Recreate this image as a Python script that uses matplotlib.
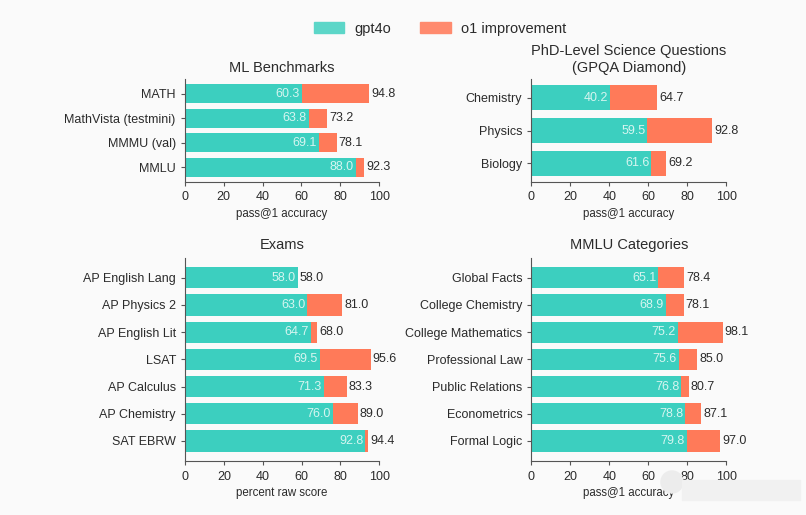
import matplotlib.pyplot as plt
from matplotlib.patches import Circle, Rectangle

plt.rcParams['font.family'] = ['Liberation Sans', 'DejaVu Sans']

TEAL = '#3ccfbf'
CORAL = '#ff7a59'
INK = '#2b2b2b'
W, H = 806, 515

ml_labels = ['MATH', 'MathVista (testmini)', 'MMMU (val)', 'MMLU']
ml_base = [60.3, 63.8, 69.1, 88.0]
ml_top = [94.8, 73.2, 78.1, 92.3]

sci_labels = ['Chemistry', 'Physics', 'Biology']
sci_base = [40.2, 59.5, 61.6]
sci_top = [64.7, 92.8, 69.2]

exam_labels = ['AP English Lang', 'AP Physics 2', 'AP English Lit', 'LSAT',
               'AP Calculus', 'AP Chemistry', 'SAT EBRW']
exam_base = [58.0, 63.0, 64.7, 69.5, 71.3, 76.0, 92.8]
exam_top = [58.0, 81.0, 68.0, 95.6, 83.3, 89.0, 94.4]

cat_labels = ['Global Facts', 'College Chemistry', 'College Mathematics',
              'Professional Law', 'Public Relations', 'Econometrics', 'Formal Logic']
cat_base = [65.1, 68.9, 75.2, 75.6, 76.8, 78.8, 79.8]
cat_top = [78.4, 78.1, 98.1, 85.0, 80.7, 87.1, 97.0]


def panel(rect, title, labels, base, top, xlabel, margin, title_pad=5):
    ax = fig.add_axes([rect[0] / W, 1 - rect[3] / H,
                       (rect[2] - rect[0]) / W, (rect[3] - rect[1]) / H])
    ax.set_facecolor('none')
    y = list(range(len(labels)))
    ax.barh(y, base, height=0.78, color=TEAL)
    ax.barh(y, [t - b for t, b in zip(top, base)], left=base, height=0.78, color=CORAL)
    for i in y:
        ax.text(base[i] - 1, i, '%.1f' % base[i], color='#d6f5f0', fontsize=9,
                ha='right', va='center')
        ax.text(top[i] + 1, i, '%.1f' % top[i], color=INK, fontsize=9,
                ha='left', va='center', clip_on=False)
    ax.set_yticks(y)
    ax.set_yticklabels(labels, fontsize=9, color=INK)
    ax.set_xlim(0, 100)
    ax.set_ylim(len(labels) - 1 + margin, -margin)
    ax.set_xticks([0, 20, 40, 60, 80, 100])
    ax.tick_params(axis='x', labelsize=9, labelcolor=INK, color='#555555', length=3, pad=4)
    ax.tick_params(axis='y', color='#555555', length=3, pad=3.5)
    ax.set_xlabel(xlabel, fontsize=8.3, color=INK, labelpad=3)
    ax.set_title(title, fontsize=10.5, color=INK, pad=title_pad)
    for s in ['top', 'right']:
        ax.spines[s].set_visible(False)
    ax.spines['bottom'].set_color('#555555')
    ax.spines['left'].set_color('#555555')
    return ax


fig = plt.figure(figsize=(W / 100, H / 100), dpi=100, facecolor='#fafafa')

panel((184.7, 79.3, 379.3, 181.7), 'ML Benchmarks', ml_labels, ml_base, ml_top,
      'pass@1 accuracy', 0.6)
panel((531.3, 79.3, 726.3, 181.7), 'PhD-Level Science Questions\n(GPQA Diamond)',
      sci_labels, sci_base, sci_top, 'pass@1 accuracy', 0.56, 5.5)
panel((185, 257.7, 379.3, 461), 'Exams', exam_labels, exam_base, exam_top,
      'percent raw score', 0.735, 6.5)
panel((531.3, 257.7, 726.3, 461), 'MMLU Categories', cat_labels, cat_base, cat_top,
      'pass@1 accuracy', 0.735, 6.5)

handles = [Rectangle((0, 0), 1, 1, color='#5cd6c8'), Rectangle((0, 0), 1, 1, color='#ff8a6e')]
fig.legend(handles, ['gpt4o', 'o1 improvement'], loc='center', ncol=2, frameon=False,
           bbox_to_anchor=(440 / W, 1 - 28.5 / H), fontsize=10.5, handlelength=2.1,
           handleheight=0.87, handletextpad=0.7, columnspacing=2.0, labelcolor=INK)

# smudged-out watermark in the bottom right corner
fig.add_artist(Circle((672, H - 482), 11, color='#ececec', zorder=5, transform=None))
fig.add_artist(Rectangle((682, H - 500), 118, 20, color='#f1f1f1', zorder=5, transform=None))

fig.savefig('out.png', dpi=100, facecolor=fig.get_facecolor())
